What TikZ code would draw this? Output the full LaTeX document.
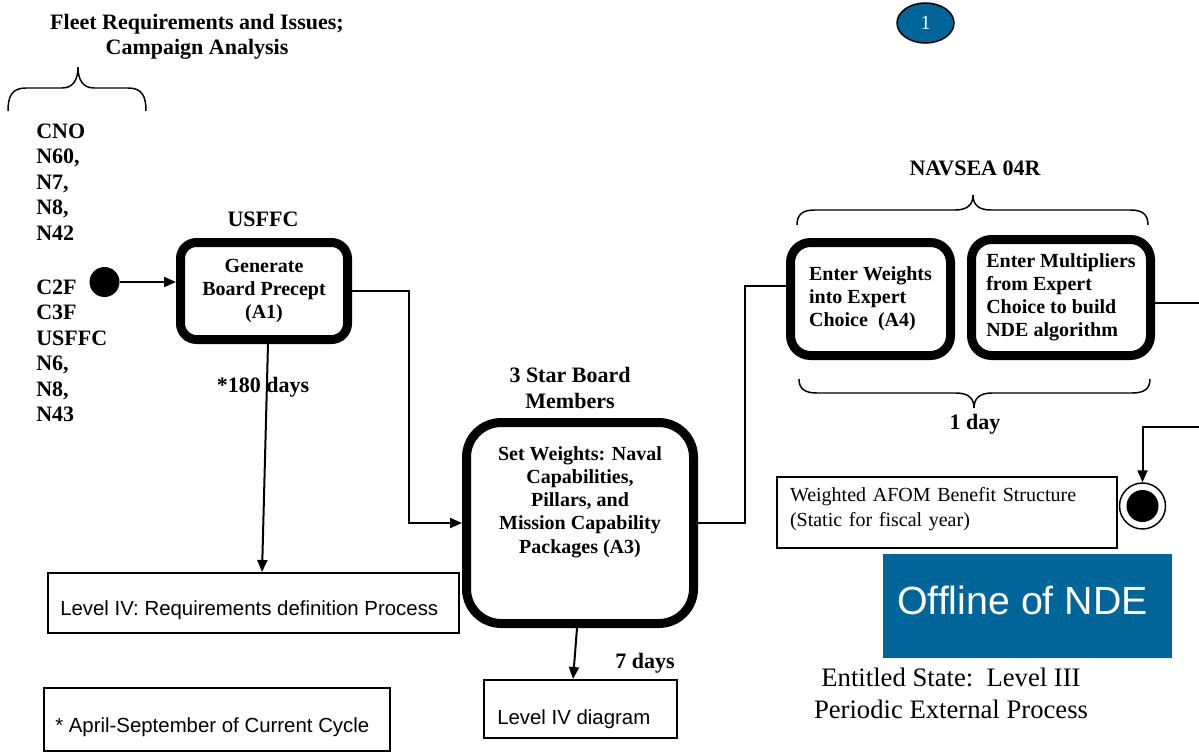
\documentclass[tikz,border=0pt]{standalone}
\usepackage{fontspec}
\setmainfont{Liberation Serif}
\newfontfamily\arialf{Liberation Sans}
\usetikzlibrary{arrows.meta,shapes.geometric,calc}
\definecolor{navyblue}{RGB}{0,102,153}
\begin{document}
\begin{tikzpicture}[x=0.75pt,y=-0.75pt,
  lbl/.style={font=\fontsize{16.5}{19.5}\selectfont\bfseries, inner sep=0pt, align=center},
  thickbox/.style={draw, line width=6.75pt, rounded corners=12pt, align=center,
    font=\fontsize{15}{17.25}\selectfont\bfseries, inner sep=0pt},
  boxtext/.style={font=\fontsize{15}{17.4}\selectfont\bfseries, inner sep=0pt, align=center},
  plainbox/.style={draw, line width=1.5pt, inner sep=0pt},
  arialtext/.style={font=\arialf\fontsize{15.3}{18}\selectfont, inner sep=0pt, anchor=base west},
  conn/.style={line width=1.5pt},
  arr/.style={conn, -{Triangle[length=9pt,width=7.5pt]}},
  brc/.style={line width=1.1pt}]
\useasboundingbox (0,0) rectangle (1199,753);

% title and brace
\node[lbl, font=\fontsize{16.5}{18.75}\selectfont\bfseries] (title) at (197,37) {Fleet Requirements and Issues;\\Campaign Analysis};
\draw[brc] (8,111) .. controls (8,96) and (12,88) .. (26,88) -- (62,88) .. controls (73,88) and (78,80) .. (78,67) .. controls (78,80) and (83,88) .. (94,88) -- (128,88) .. controls (142,88) and (146,96) .. (146,111);

% lists
\node[lbl, anchor=west, align=left, font=\fontsize{16.5}{19.1}\selectfont\bfseries] (list1) at (36,182) {CNO\\N60,\\N7,\\N8,\\N42};
\node[lbl, anchor=west, align=left, font=\fontsize{16.5}{19.1}\selectfont\bfseries] (list2) at (36,351) {C2F\\C3F\\USFFC\\N6,\\N8,\\N43};

% start
\node[circle, fill, minimum size=22.5pt, inner sep=0pt] (start) at (104.5,282) {};

% A1
\node[thickbox, minimum width=125.25pt, minimum height=72.75pt] (a1) at (264,291) {Generate\\Board Precept\\(A1)};
\node[lbl] (usffc) at (263,219) {USFFC};
\draw[arr] (start) -- (start -| a1.west);

% A3
\node[thickbox, rounded corners=26pt, minimum width=170.25pt, minimum height=150.75pt] (a3) at (580,523) {};
\node[boxtext] (a3t) at (580,502) {Set Weights: Naval\\Capabilities,\\Pillars, and\\Mission Capability\\Packages (A3)};
\node[lbl] (star) at (570,388) {3 Star Board\\Members};

\coordinate (c1) at (409,291);
\draw[arr] (a1.east) -- (c1) |- (a3.west);

% Level IV requirements
\node[plainbox, minimum width=308.25pt, minimum height=45pt] (req) at (253.5,603) {};
\node[arialtext] (reqt) at (60,615) {Level IV: Requirements definition Process};
\draw[arr] ([xshift=3pt]a1.south) -- ([xshift=6.4pt]req.north);
\node[lbl] (d180) at (263,387) {*180 days};

% Level IV diagram
\node[plainbox, minimum width=144.75pt, minimum height=43.5pt] (lv4) at (580.5,709) {};
\node[arialtext] (lv4t) at (497,724) {Level IV diagram};
\draw[arr] ([xshift=-2.25pt]a3.south) -- ([xshift=-5.6pt]lv4.north);
\node[lbl] (d7) at (645,663) {7 days};

% footnote box
\node[plainbox, minimum width=259.5pt, minimum height=47.25pt] (apr) at (217,719.5) {};
\node[arialtext] (aprt) at (55,732) {* April-September of Current Cycle};

% A4 and A5
\node[thickbox, rounded corners=15pt, minimum width=120pt, minimum height=84.75pt, align=left] (a4) at (870.5,299) {Enter Weights\\into Expert\\Choice~~(A4)};
\node[thickbox, rounded corners=15pt, minimum width=134.25pt, minimum height=87pt, align=left] (a5) at (1061,297.5) {Enter Multipliers\\from Expert\\Choice to build\\NDE algorithm};
\coordinate (c2) at (745,523);
\draw[conn] (a3.east) -- (c2) |- ([yshift=9.75pt]a4.west);

\node[lbl] (navsea) at (975,168) {NAVSEA 04R};
\draw[brc] (797,225) .. controls (797,214) and (803,210) .. (815,210) -- (955,210) .. controls (967,210) and (973,205) .. (973,195) .. controls (973,205) and (979,210) .. (991,210) -- (1130,210) .. controls (1142,210) and (1148,214) .. (1148,225);
\draw[brc] (799,379) .. controls (799,389) and (805,393) .. (817,393) -- (956,393) .. controls (968,393) and (974,398) .. (974,408) .. controls (974,398) and (980,393) .. (992,393) -- (1132,393) .. controls (1144,393) and (1150,389) .. (1150,379);
\node[lbl] (oneday) at (975,424) {1 day};

% right edge connectors
\coordinate (r1) at (1199,303);
\draw[conn] (a5.east |- r1) -- (r1);
\node[circle, draw, line width=1.1pt, minimum size=34.5pt, inner sep=0pt] (endc) at (1142.5,506) {};
\fill (endc.center) circle (12pt);
\coordinate (r2) at (1199,427);
\draw[arr] (r2) -| (endc.north);

% AFOM box
\node[plainbox, minimum width=255pt, minimum height=53.25pt] (afom) at (947,512.5) {};
\node[font=\fontsize{15}{18.75}\selectfont, text width=235.5pt, align=left, inner sep=0pt] (afomt) at (947,509.5) {Weighted AFOM Benefit Structure\\(Static for fiscal year)};

% Offline box
\node[fill=navyblue, minimum width=216.75pt, minimum height=78pt, inner sep=0pt] (off) at (1027.5,606) {};
\node[text=white, font=\arialf\fontsize{29.5}{32}\selectfont, inner sep=0pt] (offt) at (1022.5,600) {Offline of NDE};

% entitled state
\node[font=\fontsize{20}{24}\selectfont, align=center, inner sep=0pt] (ent) at (951,693) {Entitled State:~~Level III\\Periodic External Process};

% page number ellipse
\node[ellipse, draw, line width=1.1pt, fill=navyblue, minimum width=42.75pt, minimum height=30pt, inner sep=0pt, text=white, font=\fontsize{15}{18}\selectfont] (one) at (925.5,23) {1};
\end{tikzpicture}
\end{document}
